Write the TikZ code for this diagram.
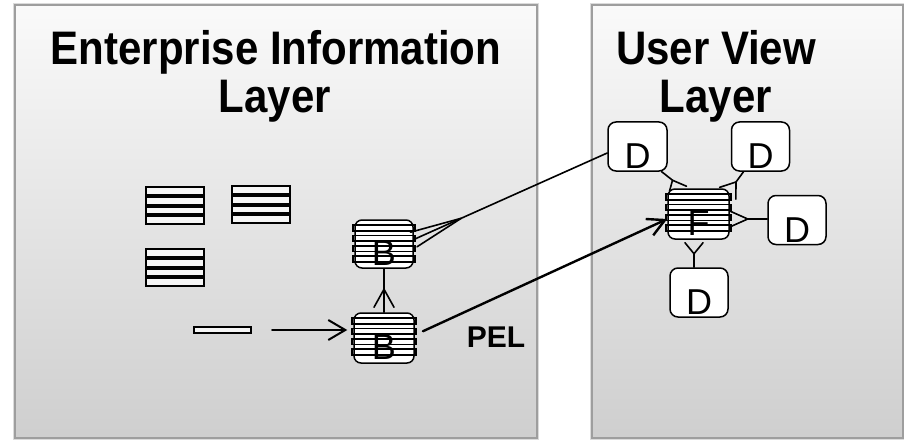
\documentclass[tikz,border=0pt]{standalone}
\usepackage{fontspec}
\setmainfont{Liberation Sans}
\usetikzlibrary{calc,arrows.meta}

% four touching bars forming a record stack
\newcommand\stackbars[3]{%
  \foreach \k in {0,1,2,3}
    \node[bar] (#1-\k) at (#2, #3+4.875+\k*9.75) {};}
% thin horizontal bands laid over an entity box
\newcommand\entitybands[1]{%
  \foreach \k in {0,1,2,3}
    \draw[band] ($(#1.north west)+(-1.5,6+\k*10.3)$) rectangle ($(#1.north east)+(1.5,11.5+\k*10.3)$);}
% crow's foot: border point, far end, apex distance, half spread, foot offset
\newcommand\crowsfoot[5]{%
  \draw[conn] ($(#1)!#5!(#2)!#4!90:(#2)$) -- ($(#1)!#3!(#2)$) -- ($(#1)!#5!(#2)!#4!-90:(#2)$);}
% slightly tall heading text
\newcommand\tallhead[1]{\scalebox{1}[1.12]{#1}}

\begin{document}
\begin{tikzpicture}[x=1pt,y=-1pt,
  title/.style={font=\fontsize{42}{48}\selectfont\bfseries, inner sep=0pt},
  bar/.style={draw=black, line width=2pt, fill=black!4, minimum width=58pt, minimum height=7.75pt, inner sep=0pt},
  band/.style={draw=black, line width=1.7pt},
  entity/.style={draw=black, line width=1.5pt, rounded corners=7pt, fill=white, inner sep=0pt,
    font=\fontsize{36}{36}\selectfont, text height=42pt, text depth=0pt},
  dbox/.style={draw=black, line width=1.5pt, rounded corners=8pt, fill=white, inner sep=0pt,
    minimum width=58pt, minimum height=49pt,
    font=\fontsize{36}{36}\selectfont, text height=44pt, text depth=0pt},
  conn/.style={draw=black, line width=1.6pt, line cap=round, line join=round},
]
\useasboundingbox (0,0) rectangle (904,441);
\fill[white] (0,0) rectangle (904,441);

% the two layer panels
\foreach \xa/\xb in {15/537, 592/903} {
  \draw[black!14, line width=4.5pt] (\xa,5) rectangle (\xb,438);
  \shade[top color=black!2, bottom color=black!19] (\xa,5) rectangle (\xb,438);
  \draw[black!38, line width=1.6pt] (\xa,5) rectangle (\xb,438);
}

% titles
\node[title, anchor=base] (eil1) at (276,65) {\tallhead{Enterprise Information}};
\node[title, anchor=base] (eil2) at (275,113) {\tallhead{Layer}};
\node[title, anchor=base] (uvl1) at (716,65) {\tallhead{User View}};
\node[title, anchor=base] (uvl2) at (716,113) {\tallhead{Layer}};

% record stacks
\stackbars{sa}{175}{186}
\stackbars{sb}{261}{185}
\stackbars{sc}{175}{248}
\node[bar, minimum width=57pt, minimum height=6.5pt] (single) at (222.5,330) {};

% entities
\node[entity, minimum width=58pt, minimum height=48pt] (Bup) at (384,244) {B};
\node[entity, minimum width=60pt, minimum height=50pt] (Blow) at (384,338) {B};
\node[entity, minimum width=61pt, minimum height=50pt] (F) at (698.5,214) {F};
\entitybands{Bup}
\entitybands{Blow}
\entitybands{F}

\node[dbox, minimum width=59pt] (Dtl) at (637.5,146.5) {D};
\node[dbox] (Dtr) at (760.5,146.5) {D};
\node[dbox] (Dr) at (797,220) {D};
\node[dbox] (Db) at (699,292.5) {D};

\node[font=\fontsize{30}{30}\selectfont\bfseries, anchor=base, inner sep=0pt] (pel) at (496,347) {PEL};

% single record into lower B
\draw[conn, line width=2pt, -{Straight Barb[length=17pt,width=20pt]}, shorten <=20pt, shorten >=6pt]
  (single.east) -- (single.east -| Blow.west);

% lower B to upper B
\draw[conn] (Bup.south) -- (Blow.north);
\crowsfoot{Blow.north}{Bup.south}{23pt}{10pt}{5pt}

% upper B to top-left D
\coordinate (c3p) at ([yshift=4.5pt]Bup.east);
\coordinate (c3q) at ([yshift=-6.5pt]Dtl.west);
\draw[conn] (c3p) -- (c3q);
\crowsfoot{c3p}{c3q}{52pt}{8pt}{0pt}

% PEL link from lower B to F
\draw[conn, line width=2.4pt, -{Straight Barb[length=17pt,width=18pt]}, shorten <=9pt]
  ([yshift=3pt]Blow.east) -- ([yshift=-5pt]F.west);

% F to the four D boxes
\coordinate (c5p) at ([xshift=-19pt]F.north);
\coordinate (c5q) at ([xshift=-6pt]Dtl.south east);
\coordinate (c5a) at ($(c5p)+(-7,-8)$);
\draw[conn] (c5q) -- (c5a);
\draw[conn] ($(c5p)+(-10,3)$) -- (c5a) -- ($(c5p)+(7,-2)$);

\coordinate (c6p) at ([xshift=-2pt,yshift=-5pt]F.north east);
\coordinate (c6q) at ([xshift=-17pt]Dtr.south);
\draw[conn] (c6q) -- ($(c6p)!14pt!(c6q)$);
\crowsfoot{c6p}{c6q}{14pt}{10pt}{0pt}

\coordinate (c7p) at ([yshift=-5pt]F.east);
\coordinate (c7q) at ([yshift=1pt]Dr.west);
\draw[conn] (c7q) -- ($(c7p)!18pt!(c7q)$);
\crowsfoot{c7p}{c7q}{18pt}{8pt}{0pt}

\coordinate (c8p) at ([xshift=-4.5pt]F.south);
\coordinate (c8q) at ([xshift=-5pt]Db.north);
\draw[conn] (c8q) -- ($(c8p)!14pt!(c8q)$);
\crowsfoot{c8p}{c8q}{14pt}{9pt}{3pt}
\end{tikzpicture}
\end{document}
